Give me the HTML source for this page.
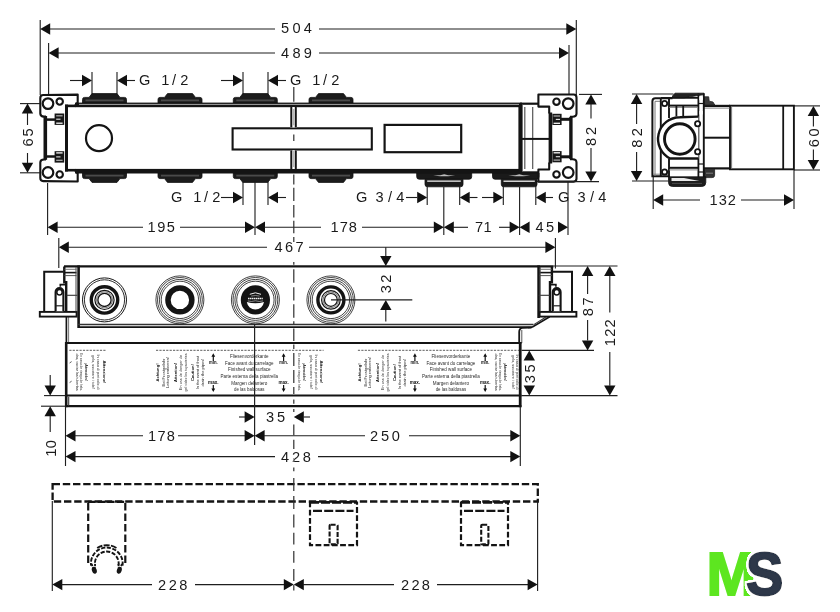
<!DOCTYPE html>
<html lang="en"><head><meta charset="utf-8"><title>Technical drawing</title>
<style>
html,body{margin:0;padding:0;background:#fff;}
body{width:840px;height:612px;overflow:hidden;}
svg{display:block;font-family:"Liberation Sans",sans-serif;}
</style></head><body>
<svg width="840" height="612" viewBox="0 0 840 612">
<rect width="840" height="612" fill="#fff"/>
<g opacity="0.999">
<line x1="40.20" y1="20.00" x2="40.20" y2="95.00" stroke="#1e1e1e" stroke-width="1.12" />
<line x1="48.60" y1="43.00" x2="48.60" y2="95.00" stroke="#1e1e1e" stroke-width="1.12" />
<line x1="576.30" y1="20.00" x2="576.30" y2="95.00" stroke="#1e1e1e" stroke-width="1.12" />
<line x1="569.00" y1="45.00" x2="569.00" y2="95.00" stroke="#1e1e1e" stroke-width="1.12" />
<line x1="49.00" y1="29.00" x2="275.00" y2="29.00" stroke="#1e1e1e" stroke-width="1.12" />
<line x1="319.00" y1="29.00" x2="567.00" y2="29.00" stroke="#1e1e1e" stroke-width="1.12" />
<polygon points="40.20,29.00 50.20,23.30 50.20,34.70" fill="#111"/>
<polygon points="576.30,29.00 566.30,23.30 566.30,34.70" fill="#111"/>
<text x="281.00" y="33.40" font-size="14.6" letter-spacing="3.321" fill="#1a1a1a">504</text>
<line x1="57.00" y1="53.00" x2="275.00" y2="53.00" stroke="#1e1e1e" stroke-width="1.12" />
<line x1="319.00" y1="53.00" x2="560.00" y2="53.00" stroke="#1e1e1e" stroke-width="1.12" />
<polygon points="48.60,53.00 58.60,47.30 58.60,58.70" fill="#111"/>
<polygon points="569.00,53.00 559.00,47.30 559.00,58.70" fill="#111"/>
<text x="281.00" y="58.00" font-size="14.6" letter-spacing="3.321" fill="#1a1a1a">489</text>
<line x1="70.00" y1="80.50" x2="82.00" y2="80.50" stroke="#1e1e1e" stroke-width="1.12" />
<polygon points="92.00,80.50 82.00,74.80 82.00,86.20" fill="#111"/>
<line x1="92.00" y1="72.00" x2="92.00" y2="95.00" stroke="#1e1e1e" stroke-width="1.12" />
<line x1="117.00" y1="72.00" x2="117.00" y2="95.00" stroke="#1e1e1e" stroke-width="1.12" />
<polygon points="117.00,80.50 127.00,74.80 127.00,86.20" fill="#111"/>
<line x1="127.00" y1="80.50" x2="135.00" y2="80.50" stroke="#1e1e1e" stroke-width="1.12" />
<text x="139.00 144.00 161.25 172.00 180.20" y="85.20" font-size="14.6" fill="#1a1a1a">G 1/2</text>
<line x1="221.00" y1="80.50" x2="233.00" y2="80.50" stroke="#1e1e1e" stroke-width="1.12" />
<polygon points="243.00,80.50 233.00,74.80 233.00,86.20" fill="#111"/>
<line x1="243.00" y1="72.00" x2="243.00" y2="95.00" stroke="#1e1e1e" stroke-width="1.12" />
<line x1="268.00" y1="72.00" x2="268.00" y2="95.00" stroke="#1e1e1e" stroke-width="1.12" />
<polygon points="268.00,80.50 278.00,74.80 278.00,86.20" fill="#111"/>
<line x1="278.00" y1="80.50" x2="286.00" y2="80.50" stroke="#1e1e1e" stroke-width="1.12" />
<text x="290.00 295.00 312.25 323.00 331.20" y="85.20" font-size="14.6" fill="#1a1a1a">G 1/2</text>
<path d="M82.50,103.00 L82.50,99.40 Q82.50,97.40 84.50,97.40 L89.00,97.40 L92.00,93.60 L117.00,93.60 L120.00,97.40 L124.50,97.40 Q126.50,97.40 126.50,99.40 L126.50,103.00 Z" fill="#1c1c1c" stroke="#111" stroke-width="0.8" />
<line x1="85.50" y1="100.40" x2="123.50" y2="100.40" stroke="#4a4a4a" stroke-width="1.6" />
<path d="M82.50,173.00 L82.50,176.60 Q82.50,178.60 84.50,178.60 L89.00,178.60 L92.00,182.40 L117.00,182.40 L120.00,178.60 L124.50,178.60 Q126.50,178.60 126.50,176.60 L126.50,173.00 Z" fill="#1c1c1c" stroke="#111" stroke-width="0.8" />
<line x1="85.50" y1="175.60" x2="123.50" y2="175.60" stroke="#4a4a4a" stroke-width="1.6" />
<path d="M158.00,103.00 L158.00,99.40 Q158.00,97.40 160.00,97.40 L164.50,97.40 L167.50,93.60 L192.50,93.60 L195.50,97.40 L200.00,97.40 Q202.00,97.40 202.00,99.40 L202.00,103.00 Z" fill="#1c1c1c" stroke="#111" stroke-width="0.8" />
<line x1="161.00" y1="100.40" x2="199.00" y2="100.40" stroke="#4a4a4a" stroke-width="1.6" />
<path d="M158.00,173.00 L158.00,176.60 Q158.00,178.60 160.00,178.60 L164.50,178.60 L167.50,182.40 L192.50,182.40 L195.50,178.60 L200.00,178.60 Q202.00,178.60 202.00,176.60 L202.00,173.00 Z" fill="#1c1c1c" stroke="#111" stroke-width="0.8" />
<line x1="161.00" y1="175.60" x2="199.00" y2="175.60" stroke="#4a4a4a" stroke-width="1.6" />
<path d="M233.30,103.00 L233.30,99.40 Q233.30,97.40 235.30,97.40 L239.80,97.40 L242.80,93.60 L267.80,93.60 L270.80,97.40 L275.30,97.40 Q277.30,97.40 277.30,99.40 L277.30,103.00 Z" fill="#1c1c1c" stroke="#111" stroke-width="0.8" />
<line x1="236.30" y1="100.40" x2="274.30" y2="100.40" stroke="#4a4a4a" stroke-width="1.6" />
<path d="M233.30,173.00 L233.30,176.60 Q233.30,178.60 235.30,178.60 L239.80,178.60 L242.80,182.40 L267.80,182.40 L270.80,178.60 L275.30,178.60 Q277.30,178.60 277.30,176.60 L277.30,173.00 Z" fill="#1c1c1c" stroke="#111" stroke-width="0.8" />
<line x1="236.30" y1="175.60" x2="274.30" y2="175.60" stroke="#4a4a4a" stroke-width="1.6" />
<path d="M309.00,103.00 L309.00,99.40 Q309.00,97.40 311.00,97.40 L315.50,97.40 L318.50,93.60 L343.50,93.60 L346.50,97.40 L351.00,97.40 Q353.00,97.40 353.00,99.40 L353.00,103.00 Z" fill="#1c1c1c" stroke="#111" stroke-width="0.8" />
<line x1="312.00" y1="100.40" x2="350.00" y2="100.40" stroke="#4a4a4a" stroke-width="1.6" />
<path d="M309.00,173.00 L309.00,176.60 Q309.00,178.60 311.00,178.60 L315.50,178.60 L318.50,182.40 L343.50,182.40 L346.50,178.60 L351.00,178.60 Q353.00,178.60 353.00,176.60 L353.00,173.00 Z" fill="#1c1c1c" stroke="#111" stroke-width="0.8" />
<line x1="312.00" y1="175.60" x2="350.00" y2="175.60" stroke="#4a4a4a" stroke-width="1.6" />
<path d="M416.70,173 L416.70,176.70 Q416.70,179.2 419.20,179.2 L469.20,179.2 Q471.70,179.2 471.70,176.70 L471.70,173 Z" fill="#1a1a1a" stroke="#111" stroke-width="0.8" />
<path d="M425.00,179.39999999999998 L425.00,184.30 Q425.00,186.8 427.50,186.8 L460.50,186.8 Q463.00,186.8 463.00,184.30 L463.00,179.39999999999998 Z" fill="#1a1a1a" stroke="#111" stroke-width="0.8" />
<line x1="427.20" y1="181.20" x2="460.80" y2="181.20" stroke="#f4f4f4" stroke-width="1.3" />
<path d="M433.20,175.6 L440.20,175.2 L444.20,174.2 L448.20,175.2 L455.20,175.6 L448.20,176.2 L440.20,176.2 Z" fill="#bdbdbd" stroke="none" stroke-width="0" />
<path d="M492.50,173 L492.50,176.70 Q492.50,179.2 495.00,179.2 L536.50,179.2 Q539.00,179.2 539.00,176.70 L539.00,173 Z" fill="#1a1a1a" stroke="#111" stroke-width="0.8" />
<path d="M501.30,179.39999999999998 L501.30,184.30 Q501.30,186.8 503.80,186.8 L534.50,186.8 Q537.00,186.8 537.00,184.30 L537.00,179.39999999999998 Z" fill="#1a1a1a" stroke="#111" stroke-width="0.8" />
<line x1="503.50" y1="181.20" x2="534.80" y2="181.20" stroke="#f4f4f4" stroke-width="1.3" />
<path d="M508.30,175.6 L515.30,175.2 L519.30,174.2 L523.30,175.2 L530.30,175.6 L523.30,176.2 L515.30,176.2 Z" fill="#bdbdbd" stroke="none" stroke-width="0" />
<rect x="65.00" y="104.60" width="10.40" height="2.60" fill="#141414" rx="0"/>
<rect x="75.00" y="102.60" width="447.00" height="4.60" fill="#141414" rx="0"/>
<rect x="520.00" y="102.60" width="18.60" height="2.20" fill="#141414" rx="0"/>
<line x1="79.00" y1="104.40" x2="519.00" y2="104.40" stroke="#b4b4b4" stroke-width="0.9" />
<rect x="65.00" y="168.90" width="10.40" height="2.60" fill="#141414" rx="0"/>
<rect x="75.00" y="168.90" width="447.00" height="4.60" fill="#141414" rx="0"/>
<rect x="520.00" y="171.30" width="18.60" height="2.20" fill="#141414" rx="0"/>
<rect x="65.00" y="104.60" width="3.00" height="66.90" fill="#141414" rx="0"/>
<rect x="518.40" y="105.00" width="4.20" height="66.00" fill="#141414" rx="0"/>
<line x1="524.80" y1="107.00" x2="524.80" y2="169.00" stroke="#555" stroke-width="1.2" />
<line x1="532.70" y1="107.00" x2="532.70" y2="169.00" stroke="#555" stroke-width="1.2" />
<line x1="522.00" y1="138.90" x2="549.00" y2="138.90" stroke="#141414" stroke-width="2" />
<circle cx="99.00" cy="138.20" r="13.00" fill="none" stroke="#141414" stroke-width="2.2"/>
<rect x="232.60" y="128.30" width="139.20" height="21.20" fill="none" stroke="#141414" stroke-width="2.1" rx="0" />
<rect x="384.60" y="124.90" width="76.60" height="27.30" fill="none" stroke="#141414" stroke-width="2.2" rx="0" />
<rect x="290.30" y="107.00" width="6.50" height="20.50" fill="#fff" rx="0"/>
<line x1="291.30" y1="107.00" x2="291.30" y2="127.50" stroke="#141414" stroke-width="2.0" />
<line x1="295.80" y1="107.00" x2="295.80" y2="127.50" stroke="#141414" stroke-width="2.0" />
<rect x="290.30" y="150.30" width="6.50" height="18.70" fill="#fff" rx="0"/>
<line x1="291.30" y1="150.30" x2="291.30" y2="169.00" stroke="#141414" stroke-width="2.0" />
<line x1="295.80" y1="150.30" x2="295.80" y2="169.00" stroke="#141414" stroke-width="2.0" />
<path d="M77.7,103.00 L77.7,94.60 L43.2,95.00 Q40.3,95.00 40.3,98.00 L40.3,113.50 Q40.3,116.60 44,116.60 L46,116.60" fill="none" stroke="#141414" stroke-width="2.1" stroke-linejoin="round"/>
<path d="M74.2,104.90 L77.7,101.00 L77.7,104.90 Z" fill="#141414" stroke="none" stroke-width="0" />
<circle cx="48.00" cy="103.60" r="5.30" fill="none" stroke="#141414" stroke-width="2.2"/>
<circle cx="59.70" cy="101.60" r="3.20" fill="none" stroke="#141414" stroke-width="2.1"/>
<line x1="46.00" y1="119.60" x2="55.50" y2="119.60" stroke="#141414" stroke-width="2.5" />
<rect x="54.60" y="113.50" width="9.60" height="11.40" fill="#171717" rx="0"/>
<line x1="56.20" y1="115.80" x2="62.60" y2="115.80" stroke="#b4b4b4" stroke-width="1.2" />
<line x1="56.20" y1="119.20" x2="60.50" y2="119.20" stroke="#e6e6e6" stroke-width="1.1" />
<line x1="56.20" y1="123.20" x2="62.60" y2="123.20" stroke="#fafafa" stroke-width="1.3" />
<path d="M77.7,173.10 L77.7,181.50 L43.2,181.10 Q40.3,181.10 40.3,178.10 L40.3,162.60 Q40.3,159.50 44,159.50 L46,159.50" fill="none" stroke="#141414" stroke-width="2.1" stroke-linejoin="round"/>
<path d="M74.2,171.20 L77.7,175.10 L77.7,171.20 Z" fill="#141414" stroke="none" stroke-width="0" />
<circle cx="48.00" cy="172.50" r="5.30" fill="none" stroke="#141414" stroke-width="2.2"/>
<circle cx="59.70" cy="174.50" r="3.20" fill="none" stroke="#141414" stroke-width="2.1"/>
<line x1="46.00" y1="156.50" x2="55.50" y2="156.50" stroke="#141414" stroke-width="2.5" />
<rect x="54.60" y="151.20" width="9.60" height="11.40" fill="#171717" rx="0"/>
<line x1="56.20" y1="160.30" x2="62.60" y2="160.30" stroke="#b4b4b4" stroke-width="1.2" />
<line x1="56.20" y1="156.90" x2="60.50" y2="156.90" stroke="#e6e6e6" stroke-width="1.1" />
<line x1="56.20" y1="152.90" x2="62.60" y2="152.90" stroke="#fafafa" stroke-width="1.3" />
<rect x="43.50" y="116.00" width="3.60" height="43.80" fill="#141414" rx="0"/>
<path d="M549.2,113.50 L549.2,106.60 L538.4,106.60 L538.4,94.50 L573.6,94.50 Q576.5,94.50 576.5,97.50 L576.5,113.60 Q576.5,116.80 572.6,116.80 L570,116.80" fill="none" stroke="#141414" stroke-width="2.1" stroke-linejoin="round"/>
<circle cx="568.20" cy="103.60" r="5.30" fill="none" stroke="#141414" stroke-width="2.2"/>
<circle cx="556.50" cy="101.70" r="3.20" fill="none" stroke="#141414" stroke-width="2.1"/>
<line x1="561.00" y1="119.30" x2="571.00" y2="119.30" stroke="#141414" stroke-width="3.0" />
<rect x="552.40" y="113.80" width="9.20" height="11.20" fill="#171717" rx="0"/>
<line x1="553.60" y1="116.00" x2="560.00" y2="116.00" stroke="#b4b4b4" stroke-width="1.2" />
<line x1="555.80" y1="119.40" x2="560.00" y2="119.40" stroke="#e6e6e6" stroke-width="1.1" />
<line x1="553.60" y1="123.30" x2="560.00" y2="123.30" stroke="#fafafa" stroke-width="1.3" />
<path d="M549.2,162.60 L549.2,169.50 L538.4,169.50 L538.4,181.60 L573.6,181.60 Q576.5,181.60 576.5,178.60 L576.5,162.50 Q576.5,159.30 572.6,159.30 L570,159.30" fill="none" stroke="#141414" stroke-width="2.1" stroke-linejoin="round"/>
<circle cx="568.20" cy="172.50" r="5.30" fill="none" stroke="#141414" stroke-width="2.2"/>
<circle cx="556.50" cy="174.40" r="3.20" fill="none" stroke="#141414" stroke-width="2.1"/>
<line x1="561.00" y1="156.80" x2="571.00" y2="156.80" stroke="#141414" stroke-width="3.0" />
<rect x="552.40" y="151.10" width="9.20" height="11.20" fill="#171717" rx="0"/>
<line x1="553.60" y1="160.10" x2="560.00" y2="160.10" stroke="#b4b4b4" stroke-width="1.2" />
<line x1="555.80" y1="156.70" x2="560.00" y2="156.70" stroke="#e6e6e6" stroke-width="1.1" />
<line x1="553.60" y1="152.80" x2="560.00" y2="152.80" stroke="#fafafa" stroke-width="1.3" />
<rect x="548.60" y="112.50" width="3.60" height="51.00" fill="#141414" rx="0"/>
<rect x="569.20" y="116.80" width="3.40" height="42.30" fill="#141414" rx="0"/>
<line x1="20.00" y1="103.60" x2="40.00" y2="103.60" stroke="#1e1e1e" stroke-width="1.12" />
<line x1="20.00" y1="172.80" x2="40.00" y2="172.80" stroke="#1e1e1e" stroke-width="1.12" />
<polygon points="27.50,103.60 21.80,113.60 33.20,113.60" fill="#111"/>
<polygon points="27.50,172.80 21.80,162.80 33.20,162.80" fill="#111"/>
<line x1="27.50" y1="113.00" x2="27.50" y2="125.00" stroke="#1e1e1e" stroke-width="1.12" />
<line x1="27.50" y1="153.00" x2="27.50" y2="163.30" stroke="#1e1e1e" stroke-width="1.12" />
<text transform="translate(27.50 137.40) rotate(-90)" x="-9.00" y="5.23" font-size="14.6" letter-spacing="1.763" fill="#1a1a1a">65</text>
<line x1="579.00" y1="94.40" x2="602.00" y2="94.40" stroke="#1e1e1e" stroke-width="1.12" />
<line x1="537.00" y1="181.60" x2="599.00" y2="181.60" stroke="#1e1e1e" stroke-width="1.12" />
<polygon points="591.00,94.40 585.30,104.40 596.70,104.40" fill="#111"/>
<polygon points="591.00,181.60 585.30,171.60 596.70,171.60" fill="#111"/>
<line x1="591.00" y1="104.00" x2="591.00" y2="118.50" stroke="#1e1e1e" stroke-width="1.12" />
<line x1="591.00" y1="148.00" x2="591.00" y2="172.00" stroke="#1e1e1e" stroke-width="1.12" />
<text transform="translate(591.00 136.50) rotate(-90)" x="-9.50" y="5.23" font-size="14.6" letter-spacing="2.763" fill="#1a1a1a">82</text>
<text x="171.00 176.00 193.25 204.00 212.20" y="201.60" font-size="14.6" fill="#1a1a1a">G 1/2</text>
<line x1="221.00" y1="197.50" x2="233.00" y2="197.50" stroke="#1e1e1e" stroke-width="1.12" />
<polygon points="243.00,197.50 233.00,191.80 233.00,203.20" fill="#111"/>
<line x1="243.00" y1="182.00" x2="243.00" y2="205.00" stroke="#1e1e1e" stroke-width="1.12" />
<line x1="268.00" y1="182.00" x2="268.00" y2="205.00" stroke="#1e1e1e" stroke-width="1.12" />
<polygon points="268.00,197.50 278.00,191.80 278.00,203.20" fill="#111"/>
<line x1="278.00" y1="197.50" x2="286.00" y2="197.50" stroke="#1e1e1e" stroke-width="1.12" />
<text x="356.00 361.00 375.60 388.00 396.30" y="201.60" font-size="14.6" fill="#1a1a1a">G 3/4</text>
<line x1="406.00" y1="197.50" x2="417.20" y2="197.50" stroke="#1e1e1e" stroke-width="1.12" />
<polygon points="427.20,197.50 417.20,191.80 417.20,203.20" fill="#111"/>
<line x1="427.20" y1="186.00" x2="427.20" y2="205.00" stroke="#1e1e1e" stroke-width="1.12" />
<line x1="459.70" y1="186.00" x2="459.70" y2="205.00" stroke="#1e1e1e" stroke-width="1.12" />
<polygon points="459.70,197.50 469.70,191.80 469.70,203.20" fill="#111"/>
<line x1="469.30" y1="197.50" x2="477.50" y2="197.50" stroke="#1e1e1e" stroke-width="1.12" />
<line x1="482.00" y1="197.50" x2="494.00" y2="197.50" stroke="#1e1e1e" stroke-width="1.12" />
<polygon points="503.30,197.50 493.30,191.80 493.30,203.20" fill="#111"/>
<line x1="503.30" y1="186.00" x2="503.30" y2="205.00" stroke="#1e1e1e" stroke-width="1.12" />
<line x1="535.80" y1="186.00" x2="535.80" y2="205.00" stroke="#1e1e1e" stroke-width="1.12" />
<polygon points="535.80,197.50 545.80,191.80 545.80,203.20" fill="#111"/>
<line x1="545.40" y1="197.50" x2="553.00" y2="197.50" stroke="#1e1e1e" stroke-width="1.12" />
<text x="558.00 563.00 577.60 590.00 598.30" y="201.60" font-size="14.6" fill="#1a1a1a">G 3/4</text>
<line x1="47.60" y1="183.00" x2="47.60" y2="235.00" stroke="#1e1e1e" stroke-width="1.12" />
<line x1="255.00" y1="182.00" x2="255.00" y2="235.00" stroke="#1e1e1e" stroke-width="1.12" />
<line x1="443.80" y1="187.00" x2="443.80" y2="235.00" stroke="#1e1e1e" stroke-width="1.12" />
<line x1="519.60" y1="187.00" x2="519.60" y2="235.00" stroke="#1e1e1e" stroke-width="1.12" />
<line x1="568.00" y1="182.00" x2="568.00" y2="235.00" stroke="#1e1e1e" stroke-width="1.12" />
<polygon points="47.60,227.30 57.60,221.60 57.60,233.00" fill="#111"/>
<line x1="57.00" y1="227.30" x2="143.00" y2="227.30" stroke="#1e1e1e" stroke-width="1.12" />
<text x="147.50" y="232.40" font-size="14.6" letter-spacing="1.571" fill="#1a1a1a">195</text>
<line x1="180.00" y1="227.30" x2="246.00" y2="227.30" stroke="#1e1e1e" stroke-width="1.12" />
<polygon points="255.00,227.30 245.00,221.60 245.00,233.00" fill="#111"/>
<polygon points="255.00,227.30 265.00,221.60 265.00,233.00" fill="#111"/>
<line x1="264.00" y1="227.30" x2="321.00" y2="227.30" stroke="#1e1e1e" stroke-width="1.12" />
<text x="330.40" y="232.40" font-size="14.6" letter-spacing="1.121" fill="#1a1a1a">178</text>
<line x1="362.00" y1="227.30" x2="435.00" y2="227.30" stroke="#1e1e1e" stroke-width="1.12" />
<polygon points="443.80,227.30 433.80,221.60 433.80,233.00" fill="#111"/>
<polygon points="443.80,227.30 453.80,221.60 453.80,233.00" fill="#111"/>
<line x1="453.00" y1="227.30" x2="468.00" y2="227.30" stroke="#1e1e1e" stroke-width="1.12" />
<text x="475.00" y="232.40" font-size="14.6" letter-spacing="0.463" fill="#1a1a1a">71</text>
<line x1="499.00" y1="227.30" x2="511.00" y2="227.30" stroke="#1e1e1e" stroke-width="1.12" />
<polygon points="519.60,227.30 509.60,221.60 509.60,233.00" fill="#111"/>
<polygon points="519.60,227.30 529.60,221.60 529.60,233.00" fill="#111"/>
<text x="535.50" y="232.40" font-size="14.6" letter-spacing="2.263" fill="#1a1a1a">45</text>
<polygon points="568.00,227.30 558.00,221.60 558.00,233.00" fill="#111"/>
<line x1="58.80" y1="238.00" x2="58.80" y2="268.00" stroke="#1e1e1e" stroke-width="1.12" />
<line x1="555.40" y1="238.00" x2="555.40" y2="268.50" stroke="#1e1e1e" stroke-width="1.12" />
<polygon points="58.80,247.20 68.80,241.50 68.80,252.90" fill="#111"/>
<polygon points="555.40,247.20 545.40,241.50 545.40,252.90" fill="#111"/>
<line x1="68.00" y1="247.20" x2="267.00" y2="247.20" stroke="#1e1e1e" stroke-width="1.12" />
<line x1="309.00" y1="247.20" x2="546.00" y2="247.20" stroke="#1e1e1e" stroke-width="1.12" />
<text x="274.50" y="252.40" font-size="14.6" letter-spacing="2.371" fill="#1a1a1a">467</text>
<line x1="64.00" y1="266.30" x2="553.50" y2="266.30" stroke="#141414" stroke-width="2.2" />
<line x1="78.60" y1="265.40" x2="78.60" y2="328.00" stroke="#141414" stroke-width="2.6" />
<line x1="538.60" y1="265.40" x2="538.60" y2="318.00" stroke="#141414" stroke-width="2.6" />
<line x1="78.00" y1="324.50" x2="533.50" y2="324.50" stroke="#333" stroke-width="1.3" />
<line x1="78.00" y1="327.10" x2="532.00" y2="327.10" stroke="#141414" stroke-width="1.6" />
<path d="M532,327.3 L549.7,316.8" fill="none" stroke="#141414" stroke-width="1.6" />
<path d="M533.8,324.6 L545.6,317.2" fill="none" stroke="#333" stroke-width="1.1" />
<path d="M531.5,327.6 L522.5,327.9 Q519.2,328.2 519.2,332 L519.2,343" fill="none" stroke="#141414" stroke-width="1.8" />
<line x1="521.80" y1="330.00" x2="521.80" y2="343.00" stroke="#555" stroke-width="1.0" />
<line x1="66.40" y1="316.60" x2="66.40" y2="343.00" stroke="#141414" stroke-width="1.7" />
<line x1="68.60" y1="316.60" x2="68.60" y2="343.00" stroke="#666" stroke-width="0.9" />
<rect x="39.80" y="311.90" width="36.80" height="4.70" fill="#fff" stroke="#141414" stroke-width="1.9" rx="0" />
<path d="M63.4,271.8 L44.2,271.8 L44.2,311.7" fill="none" stroke="#141414" stroke-width="2.0" />
<path d="M64.3,266.6 L64.3,282.2 L66.2,282.2 L66.2,311.5" fill="none" stroke="#141414" stroke-width="2.4" />
<line x1="64.50" y1="272.60" x2="76.50" y2="272.60" stroke="#141414" stroke-width="1.6" />
<line x1="64.50" y1="275.60" x2="76.50" y2="275.60" stroke="#555" stroke-width="1.0" />
<line x1="66.50" y1="295.30" x2="77.50" y2="295.30" stroke="#333" stroke-width="1.1" />
<line x1="76.00" y1="267.00" x2="76.00" y2="311.50" stroke="#444" stroke-width="1.0" />
<line x1="64.50" y1="269.30" x2="76.50" y2="269.30" stroke="#666" stroke-width="0.9" />
<path d="M55.6,311.2 L55.6,292 A3.9,3.9 0 0 1 63.4,292 L63.4,311.2" fill="#fff" stroke="#141414" stroke-width="2.1" />
<circle cx="59.50" cy="292.20" r="2.70" fill="none" stroke="#141414" stroke-width="1.5"/>
<path d="M60.3,286.8 L60.3,284.6 L65.8,284.6" fill="none" stroke="#141414" stroke-width="1.6" />
<line x1="56.00" y1="305.80" x2="63.00" y2="305.80" stroke="#222" stroke-width="1.2" />
<g transform="translate(616.2 0) scale(-1 1)">
<rect x="39.80" y="311.90" width="36.80" height="4.70" fill="#fff" stroke="#141414" stroke-width="1.9" rx="0" />
<path d="M63.4,271.8 L44.2,271.8 L44.2,311.7" fill="none" stroke="#141414" stroke-width="2.0" />
<path d="M64.3,266.6 L64.3,282.2 L66.2,282.2 L66.2,311.5" fill="none" stroke="#141414" stroke-width="2.4" />
<line x1="64.50" y1="272.60" x2="76.50" y2="272.60" stroke="#141414" stroke-width="1.6" />
<line x1="64.50" y1="275.60" x2="76.50" y2="275.60" stroke="#555" stroke-width="1.0" />
<line x1="66.50" y1="295.30" x2="77.50" y2="295.30" stroke="#333" stroke-width="1.1" />
<line x1="76.00" y1="267.00" x2="76.00" y2="311.50" stroke="#444" stroke-width="1.0" />
<line x1="64.50" y1="269.30" x2="76.50" y2="269.30" stroke="#666" stroke-width="0.9" />
<path d="M55.6,311.2 L55.6,292 A3.9,3.9 0 0 1 63.4,292 L63.4,311.2" fill="#fff" stroke="#141414" stroke-width="2.1" />
<circle cx="59.50" cy="292.20" r="2.70" fill="none" stroke="#141414" stroke-width="1.5"/>
<path d="M60.3,286.8 L60.3,284.6 L65.8,284.6" fill="none" stroke="#141414" stroke-width="1.6" />
<line x1="56.00" y1="305.80" x2="63.00" y2="305.80" stroke="#222" stroke-width="1.2" />
</g>
<circle cx="104.50" cy="299.90" r="22.00" fill="none" stroke="#141414" stroke-width="1.0"/>
<circle cx="104.50" cy="299.90" r="20.10" fill="none" stroke="#141414" stroke-width="0.9"/>
<circle cx="104.50" cy="299.90" r="13.20" fill="none" stroke="#141414" stroke-width="3.4"/>
<circle cx="104.50" cy="299.90" r="9.60" fill="none" stroke="#141414" stroke-width="1.2"/>
<circle cx="104.50" cy="299.90" r="8.00" fill="none" stroke="#444" stroke-width="0.7"/>
<circle cx="104.50" cy="299.90" r="6.60" fill="none" stroke="#141414" stroke-width="1.3"/>
<circle cx="179.90" cy="299.90" r="24.00" fill="none" stroke="#141414" stroke-width="0.8"/>
<circle cx="179.90" cy="299.90" r="22.40" fill="none" stroke="#141414" stroke-width="0.8"/>
<circle cx="179.90" cy="299.90" r="20.50" fill="none" stroke="#141414" stroke-width="0.8"/>
<circle cx="179.90" cy="299.90" r="18.70" fill="none" stroke="#141414" stroke-width="0.8"/>
<circle cx="179.90" cy="299.90" r="11.95" fill="none" stroke="#141414" stroke-width="5.5"/>
<circle cx="255.40" cy="299.90" r="24.00" fill="none" stroke="#141414" stroke-width="0.8"/>
<circle cx="255.40" cy="299.90" r="22.40" fill="none" stroke="#141414" stroke-width="0.8"/>
<circle cx="255.40" cy="299.90" r="20.50" fill="none" stroke="#141414" stroke-width="0.8"/>
<circle cx="255.40" cy="299.90" r="18.70" fill="none" stroke="#141414" stroke-width="0.8"/>
<circle cx="255.40" cy="299.90" r="14.60" fill="#141414" stroke="none" stroke-width="0"/>
<path d="M246.80,302.10 A8.7,8.7 0 0 0 264.00,302.10 Q255.40,304.50 246.80,302.10 Z" fill="#fff" stroke="none" stroke-width="0" />
<path d="M249.80,294.30 Q255.40,291.30 261.00,294.30" fill="none" stroke="#f2f2f2" stroke-width="1.0" />
<path d="M251.20,296.10 Q255.40,294.90 259.60,296.10" fill="none" stroke="#cfcfcf" stroke-width="0.6" />
<line x1="248.00" y1="298.50" x2="262.80" y2="298.50" stroke="#efefef" stroke-width="1.7" stroke-dasharray="1.5 0.45"/>
<path d="M247.80,300.90 Q251.40,302.10 255.40,300.80 Q259.40,302.10 263.00,300.90" fill="none" stroke="#dcdcdc" stroke-width="0.6" />
<circle cx="330.90" cy="299.90" r="24.00" fill="none" stroke="#141414" stroke-width="0.8"/>
<circle cx="330.90" cy="299.90" r="22.40" fill="none" stroke="#141414" stroke-width="0.8"/>
<circle cx="330.90" cy="299.90" r="20.50" fill="none" stroke="#141414" stroke-width="0.8"/>
<circle cx="330.90" cy="299.90" r="18.70" fill="none" stroke="#141414" stroke-width="0.8"/>
<circle cx="330.90" cy="299.90" r="13.00" fill="none" stroke="#141414" stroke-width="3.4"/>
<circle cx="330.90" cy="299.90" r="9.30" fill="none" stroke="#141414" stroke-width="1.2"/>
<circle cx="330.90" cy="299.90" r="7.80" fill="none" stroke="#444" stroke-width="0.7"/>
<circle cx="330.90" cy="299.90" r="6.40" fill="none" stroke="#141414" stroke-width="1.2"/>
<line x1="331.00" y1="299.90" x2="412.30" y2="299.90" stroke="#1e1e1e" stroke-width="1.1" />
<line x1="385.80" y1="247.20" x2="385.80" y2="256.50" stroke="#1e1e1e" stroke-width="1.12" />
<polygon points="385.80,266.00 380.10,256.00 391.50,256.00" fill="#111"/>
<polygon points="385.80,300.00 380.10,310.00 391.50,310.00" fill="#111"/>
<line x1="385.80" y1="310.00" x2="385.80" y2="321.40" stroke="#1e1e1e" stroke-width="1.12" />
<text transform="translate(385.80 284.00) rotate(-90)" x="-9.25" y="5.23" font-size="14.6" letter-spacing="2.263" fill="#1a1a1a">32</text>
<line x1="65.00" y1="343.00" x2="521.40" y2="343.00" stroke="#141414" stroke-width="2.2" />
<line x1="65.00" y1="395.50" x2="521.40" y2="395.50" stroke="#141414" stroke-width="2.2" />
<line x1="65.00" y1="406.20" x2="521.40" y2="406.20" stroke="#141414" stroke-width="2.2" />
<line x1="66.20" y1="342.00" x2="66.20" y2="407.20" stroke="#141414" stroke-width="2.6" />
<line x1="520.20" y1="342.00" x2="520.20" y2="407.20" stroke="#141414" stroke-width="2.8" />
<line x1="68.60" y1="396.50" x2="68.60" y2="405.40" stroke="#555" stroke-width="1.4" />
<line x1="254.60" y1="324.00" x2="254.60" y2="445.00" stroke="#222" stroke-width="1.2" />
<line x1="69.30" y1="350.30" x2="106.00" y2="350.30" stroke="#333" stroke-width="0.8" stroke-dasharray="2.2 1.2"/>
<line x1="156.00" y1="350.30" x2="323.60" y2="350.30" stroke="#333" stroke-width="0.8" stroke-dasharray="2.2 1.2"/>
<line x1="357.90" y1="350.30" x2="519.00" y2="350.30" stroke="#333" stroke-width="0.8" stroke-dasharray="2.2 1.2"/>
<text transform="translate(75.50 372.00) rotate(90)" font-size="4.3" text-anchor="middle" textLength="37.0" lengthAdjust="spacingAndGlyphs" fill="#2a2a2a">das, vaciar las tuberías</text>
<text transform="translate(80.00 372.00) rotate(90)" font-size="4.3" text-anchor="middle" textLength="38.0" lengthAdjust="spacingAndGlyphs" fill="#2a2a2a">En caso de riesgo de hela-</text>
<text transform="translate(85.00 372.00) rotate(90)" font-size="4.4" text-anchor="middle" font-weight="bold" textLength="18.0" lengthAdjust="spacingAndGlyphs" fill="#111">¡Atención!</text>
<text transform="translate(92.20 372.00) rotate(90)" font-size="4.3" text-anchor="middle" textLength="34.0" lengthAdjust="spacingAndGlyphs" fill="#2a2a2a">gelo, svuotare i tubi!</text>
<text transform="translate(96.90 372.00) rotate(90)" font-size="4.3" text-anchor="middle" textLength="35.0" lengthAdjust="spacingAndGlyphs" fill="#2a2a2a">In caso di pericolo di</text>
<text transform="translate(102.50 372.00) rotate(90)" font-size="4.4" text-anchor="middle" font-weight="bold" textLength="23.0" lengthAdjust="spacingAndGlyphs" fill="#111">Attenzione!</text>
<line x1="69.60" y1="363.00" x2="71.60" y2="361.60" stroke="#333" stroke-width="0.8" />
<line x1="69.60" y1="382.60" x2="71.60" y2="381.20" stroke="#333" stroke-width="0.8" />
<text transform="translate(159.30 372.50) rotate(-90)" font-size="4.4" text-anchor="middle" font-weight="bold" textLength="18.0" lengthAdjust="spacingAndGlyphs" fill="#111">Achtung!</text>
<text transform="translate(164.90 372.50) rotate(-90)" font-size="4.3" text-anchor="middle" textLength="28.0" lengthAdjust="spacingAndGlyphs" fill="#2a2a2a">Bei Frostgefahr</text>
<text transform="translate(169.30 372.50) rotate(-90)" font-size="4.3" text-anchor="middle" textLength="31.0" lengthAdjust="spacingAndGlyphs" fill="#2a2a2a">Leitung entleeren!</text>
<text transform="translate(177.10 372.50) rotate(-90)" font-size="4.4" text-anchor="middle" font-weight="bold" textLength="19.0" lengthAdjust="spacingAndGlyphs" fill="#111">Attention!</text>
<text transform="translate(182.10 372.50) rotate(-90)" font-size="4.3" text-anchor="middle" textLength="35.0" lengthAdjust="spacingAndGlyphs" fill="#2a2a2a">En cas de danger de</text>
<text transform="translate(187.10 372.50) rotate(-90)" font-size="4.3" text-anchor="middle" textLength="38.0" lengthAdjust="spacingAndGlyphs" fill="#2a2a2a">gel videz les tuyauteries</text>
<text transform="translate(194.30 372.50) rotate(-90)" font-size="4.4" text-anchor="middle" font-weight="bold" textLength="17.0" lengthAdjust="spacingAndGlyphs" fill="#111">Caution!</text>
<text transform="translate(199.30 372.50) rotate(-90)" font-size="4.3" text-anchor="middle" textLength="33.0" lengthAdjust="spacingAndGlyphs" fill="#2a2a2a">In the event of frost</text>
<text transform="translate(204.30 372.50) rotate(-90)" font-size="4.3" text-anchor="middle" textLength="28.0" lengthAdjust="spacingAndGlyphs" fill="#2a2a2a">drain the pipes!</text>
<line x1="213.30" y1="355.00" x2="213.30" y2="361.00" stroke="#111" stroke-width="1.2" />
<polygon points="213.30,353.2 211.40,356.8 215.20,356.8" fill="#111"/>
<text x="213.30" y="364.30" font-size="4.7" text-anchor="middle" font-weight="bold" textLength="8.6" lengthAdjust="spacingAndGlyphs" fill="#111">min.</text>
<text x="213.30" y="383.60" font-size="4.7" text-anchor="middle" font-weight="bold" textLength="10.4" lengthAdjust="spacingAndGlyphs" fill="#111">max.</text>
<line x1="213.30" y1="385.00" x2="213.30" y2="390.20" stroke="#111" stroke-width="1.2" />
<polygon points="213.30,392 211.40,388.4 215.20,388.4" fill="#111"/>
<text x="249.30" y="357.60" font-size="5.0" text-anchor="middle" textLength="38.6" lengthAdjust="spacingAndGlyphs" fill="#2a2a2a">Fliesenvorderkante</text>
<text x="249.30" y="364.50" font-size="5.0" text-anchor="middle" textLength="48.6" lengthAdjust="spacingAndGlyphs" fill="#2a2a2a">Face avant du carrelage</text>
<text x="249.30" y="371.30" font-size="5.0" text-anchor="middle" textLength="42.5" lengthAdjust="spacingAndGlyphs" fill="#2a2a2a">Finished wall surface</text>
<text x="249.30" y="378.30" font-size="5.0" text-anchor="middle" textLength="57.7" lengthAdjust="spacingAndGlyphs" fill="#2a2a2a">Parte esterna della piastrella</text>
<text x="249.30" y="385.00" font-size="5.0" text-anchor="middle" textLength="36.2" lengthAdjust="spacingAndGlyphs" fill="#2a2a2a">Margen delantero</text>
<text x="249.30" y="390.90" font-size="5.0" text-anchor="middle" textLength="30.5" lengthAdjust="spacingAndGlyphs" fill="#2a2a2a">de las baldosas</text>
<line x1="283.60" y1="355.00" x2="283.60" y2="361.00" stroke="#111" stroke-width="1.2" />
<polygon points="283.60,353.2 281.70,356.8 285.50,356.8" fill="#111"/>
<text x="283.60" y="364.30" font-size="4.7" text-anchor="middle" font-weight="bold" textLength="8.6" lengthAdjust="spacingAndGlyphs" fill="#111">min.</text>
<text x="283.60" y="383.60" font-size="4.7" text-anchor="middle" font-weight="bold" textLength="10.4" lengthAdjust="spacingAndGlyphs" fill="#111">max.</text>
<line x1="283.60" y1="385.00" x2="283.60" y2="390.20" stroke="#111" stroke-width="1.2" />
<polygon points="283.60,392 281.70,388.4 285.50,388.4" fill="#111"/>
<text transform="translate(297.80 372.00) rotate(90)" font-size="4.3" text-anchor="middle" textLength="38.0" lengthAdjust="spacingAndGlyphs" fill="#2a2a2a">En caso de riesgo de hela-</text>
<text transform="translate(302.80 372.00) rotate(90)" font-size="4.4" text-anchor="middle" font-weight="bold" textLength="18.0" lengthAdjust="spacingAndGlyphs" fill="#111">¡Atención!</text>
<text transform="translate(310.00 372.00) rotate(90)" font-size="4.3" text-anchor="middle" textLength="34.0" lengthAdjust="spacingAndGlyphs" fill="#2a2a2a">gelo, svuotare i tubi!</text>
<text transform="translate(314.70 372.00) rotate(90)" font-size="4.3" text-anchor="middle" textLength="35.0" lengthAdjust="spacingAndGlyphs" fill="#2a2a2a">In caso di pericolo di</text>
<text transform="translate(320.30 372.00) rotate(90)" font-size="4.4" text-anchor="middle" font-weight="bold" textLength="23.0" lengthAdjust="spacingAndGlyphs" fill="#111">Attenzione!</text>
<text transform="translate(360.90 372.50) rotate(-90)" font-size="4.4" text-anchor="middle" font-weight="bold" textLength="18.0" lengthAdjust="spacingAndGlyphs" fill="#111">Achtung!</text>
<text transform="translate(366.50 372.50) rotate(-90)" font-size="4.3" text-anchor="middle" textLength="28.0" lengthAdjust="spacingAndGlyphs" fill="#2a2a2a">Bei Frostgefahr</text>
<text transform="translate(370.90 372.50) rotate(-90)" font-size="4.3" text-anchor="middle" textLength="31.0" lengthAdjust="spacingAndGlyphs" fill="#2a2a2a">Leitung entleeren!</text>
<text transform="translate(378.70 372.50) rotate(-90)" font-size="4.4" text-anchor="middle" font-weight="bold" textLength="19.0" lengthAdjust="spacingAndGlyphs" fill="#111">Attention!</text>
<text transform="translate(383.70 372.50) rotate(-90)" font-size="4.3" text-anchor="middle" textLength="35.0" lengthAdjust="spacingAndGlyphs" fill="#2a2a2a">En cas de danger de</text>
<text transform="translate(388.70 372.50) rotate(-90)" font-size="4.3" text-anchor="middle" textLength="38.0" lengthAdjust="spacingAndGlyphs" fill="#2a2a2a">gel videz les tuyauteries</text>
<text transform="translate(395.90 372.50) rotate(-90)" font-size="4.4" text-anchor="middle" font-weight="bold" textLength="17.0" lengthAdjust="spacingAndGlyphs" fill="#111">Caution!</text>
<text transform="translate(400.90 372.50) rotate(-90)" font-size="4.3" text-anchor="middle" textLength="33.0" lengthAdjust="spacingAndGlyphs" fill="#2a2a2a">In the event of frost</text>
<text transform="translate(405.90 372.50) rotate(-90)" font-size="4.3" text-anchor="middle" textLength="28.0" lengthAdjust="spacingAndGlyphs" fill="#2a2a2a">drain the pipes!</text>
<line x1="414.90" y1="355.00" x2="414.90" y2="361.00" stroke="#111" stroke-width="1.2" />
<polygon points="414.90,353.2 413.00,356.8 416.80,356.8" fill="#111"/>
<text x="414.90" y="364.30" font-size="4.7" text-anchor="middle" font-weight="bold" textLength="8.6" lengthAdjust="spacingAndGlyphs" fill="#111">min.</text>
<text x="414.90" y="383.60" font-size="4.7" text-anchor="middle" font-weight="bold" textLength="10.4" lengthAdjust="spacingAndGlyphs" fill="#111">max.</text>
<line x1="414.90" y1="385.00" x2="414.90" y2="390.20" stroke="#111" stroke-width="1.2" />
<polygon points="414.90,392 413.00,388.4 416.80,388.4" fill="#111"/>
<text x="450.90" y="357.60" font-size="5.0" text-anchor="middle" textLength="38.6" lengthAdjust="spacingAndGlyphs" fill="#2a2a2a">Fliesenvorderkante</text>
<text x="450.90" y="364.50" font-size="5.0" text-anchor="middle" textLength="48.6" lengthAdjust="spacingAndGlyphs" fill="#2a2a2a">Face avant du carrelage</text>
<text x="450.90" y="371.30" font-size="5.0" text-anchor="middle" textLength="42.5" lengthAdjust="spacingAndGlyphs" fill="#2a2a2a">Finished wall surface</text>
<text x="450.90" y="378.30" font-size="5.0" text-anchor="middle" textLength="57.7" lengthAdjust="spacingAndGlyphs" fill="#2a2a2a">Parte esterna della piastrella</text>
<text x="450.90" y="385.00" font-size="5.0" text-anchor="middle" textLength="36.2" lengthAdjust="spacingAndGlyphs" fill="#2a2a2a">Margen delantero</text>
<text x="450.90" y="390.90" font-size="5.0" text-anchor="middle" textLength="30.5" lengthAdjust="spacingAndGlyphs" fill="#2a2a2a">de las baldosas</text>
<line x1="485.20" y1="355.00" x2="485.20" y2="361.00" stroke="#111" stroke-width="1.2" />
<polygon points="485.20,353.2 483.30,356.8 487.10,356.8" fill="#111"/>
<text x="485.20" y="364.30" font-size="4.7" text-anchor="middle" font-weight="bold" textLength="8.6" lengthAdjust="spacingAndGlyphs" fill="#111">min.</text>
<text x="485.20" y="383.60" font-size="4.7" text-anchor="middle" font-weight="bold" textLength="10.4" lengthAdjust="spacingAndGlyphs" fill="#111">max.</text>
<line x1="485.20" y1="385.00" x2="485.20" y2="390.20" stroke="#111" stroke-width="1.2" />
<polygon points="485.20,392 483.30,388.4 487.10,388.4" fill="#111"/>
<text transform="translate(494.90 372.00) rotate(90)" font-size="4.3" text-anchor="middle" textLength="37.0" lengthAdjust="spacingAndGlyphs" fill="#2a2a2a">das, vaciar las tuberías</text>
<text transform="translate(499.40 372.00) rotate(90)" font-size="4.3" text-anchor="middle" textLength="38.0" lengthAdjust="spacingAndGlyphs" fill="#2a2a2a">En caso de riesgo de hela-</text>
<text transform="translate(504.40 372.00) rotate(90)" font-size="4.4" text-anchor="middle" font-weight="bold" textLength="18.0" lengthAdjust="spacingAndGlyphs" fill="#111">¡Atención!</text>
<text transform="translate(511.60 372.00) rotate(90)" font-size="4.3" text-anchor="middle" textLength="34.0" lengthAdjust="spacingAndGlyphs" fill="#2a2a2a">gelo, svuotare i tubi!</text>
<text transform="translate(516.30 372.00) rotate(90)" font-size="4.3" text-anchor="middle" textLength="35.0" lengthAdjust="spacingAndGlyphs" fill="#2a2a2a">In caso di pericolo di</text>
<line x1="553.50" y1="266.00" x2="617.50" y2="266.00" stroke="#1e1e1e" stroke-width="1.12" />
<line x1="521.50" y1="350.40" x2="594.00" y2="350.40" stroke="#1e1e1e" stroke-width="1.12" />
<line x1="521.50" y1="395.60" x2="617.50" y2="395.60" stroke="#1e1e1e" stroke-width="1.12" />
<polygon points="587.60,266.00 581.90,276.00 593.30,276.00" fill="#111"/>
<polygon points="587.60,350.40 581.90,340.40 593.30,340.40" fill="#111"/>
<line x1="587.60" y1="276.00" x2="587.60" y2="294.00" stroke="#1e1e1e" stroke-width="1.12" />
<line x1="587.60" y1="320.00" x2="587.60" y2="340.50" stroke="#1e1e1e" stroke-width="1.12" />
<text transform="translate(587.60 306.80) rotate(-90)" x="-9.50" y="5.23" font-size="14.6" letter-spacing="2.763" fill="#1a1a1a">87</text>
<polygon points="609.80,266.00 604.10,276.00 615.50,276.00" fill="#111"/>
<polygon points="609.80,395.60 604.10,385.60 615.50,385.60" fill="#111"/>
<line x1="609.80" y1="276.00" x2="609.80" y2="312.50" stroke="#1e1e1e" stroke-width="1.12" />
<line x1="609.80" y1="352.00" x2="609.80" y2="385.70" stroke="#1e1e1e" stroke-width="1.12" />
<text transform="translate(609.80 332.80) rotate(-90)" x="-13.50" y="5.23" font-size="14.6" letter-spacing="1.321" fill="#1a1a1a">122</text>
<polygon points="529.30,350.40 523.60,360.40 535.00,360.40" fill="#111"/>
<polygon points="529.30,395.60 523.60,385.60 535.00,385.60" fill="#111"/>
<text transform="translate(529.70 373.80) rotate(-90)" x="-9.40" y="5.23" font-size="14.6" letter-spacing="2.563" fill="#1a1a1a">35</text>
<line x1="44.00" y1="395.60" x2="66.00" y2="395.60" stroke="#1e1e1e" stroke-width="1.12" />
<line x1="41.00" y1="406.20" x2="66.00" y2="406.20" stroke="#1e1e1e" stroke-width="1.12" />
<line x1="50.20" y1="375.00" x2="50.20" y2="386.00" stroke="#1e1e1e" stroke-width="1.12" />
<polygon points="50.20,395.60 44.50,385.60 55.90,385.60" fill="#111"/>
<polygon points="50.20,406.20 44.50,416.20 55.90,416.20" fill="#111"/>
<line x1="50.20" y1="416.00" x2="50.20" y2="432.00" stroke="#1e1e1e" stroke-width="1.12" />
<text transform="translate(50.50 448.40) rotate(-90)" x="-8.30" y="5.23" font-size="14.6" letter-spacing="0.363" fill="#1a1a1a">10</text>
<line x1="65.50" y1="407.00" x2="65.50" y2="466.00" stroke="#1e1e1e" stroke-width="1.12" />
<line x1="520.30" y1="407.00" x2="520.30" y2="466.00" stroke="#1e1e1e" stroke-width="1.12" />
<line x1="239.00" y1="417.00" x2="245.00" y2="417.00" stroke="#1e1e1e" stroke-width="1.12" />
<polygon points="254.60,417.00 244.60,411.30 244.60,422.70" fill="#111"/>
<text x="266.00" y="422.20" font-size="14.6" letter-spacing="2.763" fill="#1a1a1a">35</text>
<polygon points="293.80,417.00 303.80,411.30 303.80,422.70" fill="#111"/>
<line x1="303.50" y1="417.00" x2="310.00" y2="417.00" stroke="#1e1e1e" stroke-width="1.12" />
<polygon points="65.50,435.80 75.50,430.10 75.50,441.50" fill="#111"/>
<line x1="75.00" y1="435.80" x2="143.00" y2="435.80" stroke="#1e1e1e" stroke-width="1.12" />
<text x="148.00" y="441.10" font-size="14.6" letter-spacing="1.321" fill="#1a1a1a">178</text>
<line x1="178.00" y1="435.80" x2="245.00" y2="435.80" stroke="#1e1e1e" stroke-width="1.12" />
<polygon points="254.60,435.80 244.60,430.10 244.60,441.50" fill="#111"/>
<polygon points="254.60,435.80 264.60,430.10 264.60,441.50" fill="#111"/>
<line x1="264.00" y1="435.80" x2="365.00" y2="435.80" stroke="#1e1e1e" stroke-width="1.12" />
<text x="370.00" y="441.20" font-size="14.6" letter-spacing="2.821" fill="#1a1a1a">250</text>
<line x1="409.00" y1="435.80" x2="511.00" y2="435.80" stroke="#1e1e1e" stroke-width="1.12" />
<polygon points="520.30,435.80 510.30,430.10 510.30,441.50" fill="#111"/>
<polygon points="65.50,456.60 75.50,450.90 75.50,462.30" fill="#111"/>
<line x1="75.00" y1="456.60" x2="275.00" y2="456.60" stroke="#1e1e1e" stroke-width="1.12" />
<text x="281.00" y="461.60" font-size="14.6" letter-spacing="2.821" fill="#1a1a1a">428</text>
<line x1="318.00" y1="456.60" x2="511.00" y2="456.60" stroke="#1e1e1e" stroke-width="1.12" />
<polygon points="520.30,456.60 510.30,450.90 510.30,462.30" fill="#111"/>
<line x1="632.00" y1="94.00" x2="673.50" y2="94.00" stroke="#1e1e1e" stroke-width="1.12" />
<line x1="632.00" y1="181.00" x2="668.00" y2="181.00" stroke="#1e1e1e" stroke-width="1.12" />
<polygon points="636.60,94.00 630.90,104.00 642.30,104.00" fill="#111"/>
<polygon points="636.60,181.00 630.90,171.00 642.30,171.00" fill="#111"/>
<line x1="636.60" y1="104.00" x2="636.60" y2="124.00" stroke="#1e1e1e" stroke-width="1.12" />
<line x1="636.60" y1="152.00" x2="636.60" y2="171.00" stroke="#1e1e1e" stroke-width="1.12" />
<text transform="translate(637.00 138.00) rotate(-90)" x="-9.75" y="5.23" font-size="14.6" letter-spacing="3.263" fill="#1a1a1a">82</text>
<line x1="794.00" y1="105.90" x2="820.00" y2="105.90" stroke="#1e1e1e" stroke-width="1.12" />
<line x1="794.00" y1="170.00" x2="820.00" y2="170.00" stroke="#1e1e1e" stroke-width="1.12" />
<polygon points="813.40,105.90 807.70,115.90 819.10,115.90" fill="#111"/>
<polygon points="813.40,170.00 807.70,160.00 819.10,160.00" fill="#111"/>
<line x1="813.40" y1="115.50" x2="813.40" y2="126.60" stroke="#1e1e1e" stroke-width="1.12" />
<line x1="813.40" y1="149.50" x2="813.40" y2="160.00" stroke="#1e1e1e" stroke-width="1.12" />
<text transform="translate(813.40 137.80) rotate(-90)" x="-9.50" y="5.23" font-size="14.6" letter-spacing="2.763" fill="#1a1a1a">60</text>
<line x1="653.20" y1="176.00" x2="653.20" y2="209.00" stroke="#1e1e1e" stroke-width="1.12" />
<line x1="794.00" y1="170.00" x2="794.00" y2="209.00" stroke="#1e1e1e" stroke-width="1.12" />
<polygon points="653.20,200.00 663.20,194.30 663.20,205.70" fill="#111"/>
<polygon points="794.00,200.00 784.00,194.30 784.00,205.70" fill="#111"/>
<line x1="662.50" y1="200.00" x2="700.00" y2="200.00" stroke="#1e1e1e" stroke-width="1.12" />
<line x1="741.00" y1="200.00" x2="784.50" y2="200.00" stroke="#1e1e1e" stroke-width="1.12" />
<text x="709.50" y="205.20" font-size="14.6" letter-spacing="1.071" fill="#1a1a1a">132</text>
<rect x="730.00" y="105.70" width="63.90" height="63.60" fill="#fff" stroke="#141414" stroke-width="1.9" rx="0" />
<line x1="783.20" y1="105.70" x2="783.20" y2="169.30" stroke="#141414" stroke-width="1.8" />
<line x1="731.60" y1="106.00" x2="731.60" y2="169.00" stroke="#666" stroke-width="0.9" />
<line x1="704.00" y1="105.90" x2="730.00" y2="105.90" stroke="#141414" stroke-width="2.2" />
<line x1="704.00" y1="108.10" x2="730.00" y2="108.10" stroke="#777" stroke-width="0.9" />
<line x1="704.00" y1="137.70" x2="730.00" y2="137.70" stroke="#141414" stroke-width="2.0" />
<line x1="704.00" y1="168.40" x2="730.00" y2="168.40" stroke="#141414" stroke-width="2.2" />
<path d="M704,96.8 L708.7,96.8 L709.2,101.2 L713,102 L714.8,105 L704,105 Z" fill="#3a3a3a" stroke="#222" stroke-width="0.8" />
<path d="M704,169.2 L714.6,169.2 L714.6,175.4 Q714.6,177.6 712,177.6 L704,177.6 Z" fill="#333" stroke="#222" stroke-width="0.8" />
<line x1="706.00" y1="173.20" x2="713.00" y2="173.20" stroke="#888" stroke-width="0.9" />
<path d="M672.5,98.3 L655.4,98.3 Q652.4,98.3 652.4,101.3 L652.4,176.2 L669,176.2" fill="none" stroke="#141414" stroke-width="2.0" />
<path d="M655,176 L655,101.3 L661,101.3" fill="none" stroke="#777" stroke-width="1.0" />
<line x1="653.00" y1="174.20" x2="668.00" y2="174.20" stroke="#777" stroke-width="0.9" />
<line x1="660.80" y1="99.00" x2="660.80" y2="176.00" stroke="#141414" stroke-width="1.9" />
<line x1="669.00" y1="98.00" x2="669.00" y2="118.00" stroke="#141414" stroke-width="1.9" />
<line x1="669.00" y1="159.00" x2="669.00" y2="177.00" stroke="#141414" stroke-width="1.9" />
<line x1="698.40" y1="93.40" x2="698.40" y2="185.00" stroke="#141414" stroke-width="1.8" />
<line x1="703.80" y1="93.40" x2="703.80" y2="185.00" stroke="#141414" stroke-width="1.9" />
<line x1="661.00" y1="97.90" x2="699.00" y2="97.90" stroke="#141414" stroke-width="1.6" />
<path d="M672.5,97.8 L672.5,96 L675,93.2 L704,93.2 L704,94.6 L684,97.8 Z" fill="#222" stroke="#111" stroke-width="0.8" />
<line x1="669.00" y1="105.60" x2="698.00" y2="105.60" stroke="#141414" stroke-width="2.0" />
<line x1="669.00" y1="107.40" x2="698.00" y2="107.40" stroke="#777" stroke-width="0.9" />
<line x1="676.40" y1="105.60" x2="676.40" y2="116.20" stroke="#141414" stroke-width="1.8" />
<line x1="683.20" y1="105.60" x2="683.20" y2="116.20" stroke="#141414" stroke-width="1.8" />
<rect x="699.40" y="96.60" width="3.40" height="3.60" fill="#fff" rx="0"/>
<rect x="699.40" y="111.00" width="3.40" height="3.40" fill="#fff" rx="0"/>
<line x1="698.40" y1="103.50" x2="703.80" y2="103.50" stroke="#141414" stroke-width="1.2" />
<line x1="669.00" y1="167.80" x2="698.00" y2="167.80" stroke="#141414" stroke-width="2.0" />
<line x1="669.00" y1="169.90" x2="698.00" y2="169.90" stroke="#777" stroke-width="0.9" />
<line x1="698.40" y1="164.00" x2="703.80" y2="164.00" stroke="#141414" stroke-width="1.2" />
<line x1="698.40" y1="172.00" x2="703.80" y2="172.00" stroke="#141414" stroke-width="1.2" />
<path d="M698.4,116.6 L679.8,117.2 A21.8,21.8 0 0 0 670.1,158.5 L698.4,158.5" fill="#fff" stroke="#141414" stroke-width="2.4" />
<circle cx="679.80" cy="139.00" r="15.30" fill="none" stroke="#141414" stroke-width="2.9"/>
<circle cx="664.60" cy="103.50" r="2.60" fill="#fff" stroke="#141414" stroke-width="1.8"/>
<circle cx="697.60" cy="123.80" r="2.60" fill="#fff" stroke="#141414" stroke-width="1.8"/>
<circle cx="697.60" cy="151.70" r="2.60" fill="#fff" stroke="#141414" stroke-width="1.8"/>
<circle cx="664.60" cy="171.90" r="2.60" fill="#fff" stroke="#141414" stroke-width="1.8"/>
<path d="M668.5,176.8 L705.8,176.8 L705.8,182.5 Q705.8,186.5 701.8,186.5 L672.5,186.5 Q668.5,186.5 668.5,182.5 Z" fill="#1c1c1c" stroke="#111" stroke-width="0.8" />
<path d="M671.5,178 L684,178 L699.5,181 L671.5,181 Z" fill="#e9e9e9" stroke="none" stroke-width="0" />
<line x1="672.00" y1="183.40" x2="702.00" y2="183.40" stroke="#555" stroke-width="0.8" />
<rect x="52.60" y="484.10" width="485.20" height="17.40" fill="none" stroke="#141414" stroke-width="2.3" rx="0" stroke-dasharray="7.4 2.8"/>
<line x1="52.30" y1="501.00" x2="52.30" y2="591.00" stroke="#1e1e1e" stroke-width="1.12" />
<line x1="537.60" y1="501.00" x2="537.60" y2="591.00" stroke="#1e1e1e" stroke-width="1.12" />
<line x1="88.20" y1="503.00" x2="88.20" y2="564.50" stroke="#141414" stroke-width="2.2" stroke-dasharray="7.4 3.1"/>
<line x1="125.30" y1="503.00" x2="125.30" y2="564.50" stroke="#141414" stroke-width="2.2" stroke-dasharray="7.4 3.1"/>
<line x1="88.00" y1="501.80" x2="125.50" y2="501.80" stroke="#141414" stroke-width="2.3" stroke-dasharray="7.4 2.2"/>
<path d="M122.55,565.61 A15.9,15.9 0 1 0 91.05,565.61" fill="none" stroke="#141414" stroke-width="1.9" stroke-dasharray="4.2 1.5"/>
<path d="M118.52,565.47 A11.9,11.9 0 1 0 95.08,565.47" fill="none" stroke="#141414" stroke-width="1.9" stroke-dasharray="4.2 1.5"/>
<path d="M116.44,547.97 A18.2,18.2 0 0 0 97.16,547.97" fill="none" stroke="#141414" stroke-width="1.9" stroke-dasharray="6 1.3"/>
<ellipse cx="94.30" cy="570.30" rx="2.4" ry="3.5" transform="rotate(-18 94.30 570.30)" fill="#161616"/>
<path d="M91.60,563.90 L93.40,568.40" fill="none" stroke="#141414" stroke-width="1.8" stroke-dasharray="2.4 1"/>
<path d="M95.20,563.90 L95.00,568.40" fill="none" stroke="#141414" stroke-width="1.6" stroke-dasharray="2.4 1"/>
<ellipse cx="119.30" cy="570.30" rx="2.4" ry="3.5" transform="rotate(18 119.30 570.30)" fill="#161616"/>
<path d="M122.00,563.90 L120.20,568.40" fill="none" stroke="#141414" stroke-width="1.8" stroke-dasharray="2.4 1"/>
<path d="M118.40,563.90 L118.60,568.40" fill="none" stroke="#141414" stroke-width="1.6" stroke-dasharray="2.4 1"/>
<path d="M310,501.5 L310,545.2 L357,545.2 L357,501.5" fill="none" stroke="#141414" stroke-width="2.2" stroke-dasharray="5.8 2.4"/>
<line x1="313.00" y1="510.80" x2="353.50" y2="510.80" stroke="#141414" stroke-width="2.2" stroke-dasharray="9 2.2"/>
<line x1="310.00" y1="502.40" x2="357.00" y2="502.40" stroke="#141414" stroke-width="2.6" stroke-dasharray="9 2"/>
<rect x="329.60" y="524.80" width="8.00" height="19.60" fill="none" stroke="#141414" stroke-width="2.1" rx="1" stroke-dasharray="5 1.8"/>
<path d="M461,501.5 L461,545.2 L508,545.2 L508,501.5" fill="none" stroke="#141414" stroke-width="2.2" stroke-dasharray="5.8 2.4"/>
<line x1="464.00" y1="510.80" x2="504.50" y2="510.80" stroke="#141414" stroke-width="2.2" stroke-dasharray="9 2.2"/>
<line x1="461.00" y1="502.40" x2="508.00" y2="502.40" stroke="#141414" stroke-width="2.6" stroke-dasharray="9 2"/>
<rect x="481.20" y="524.80" width="7.20" height="19.60" fill="none" stroke="#141414" stroke-width="2.1" rx="1" stroke-dasharray="5 1.8"/>
<polygon points="52.30,584.60 62.30,578.90 62.30,590.30" fill="#111"/>
<line x1="61.50" y1="584.60" x2="152.00" y2="584.60" stroke="#1e1e1e" stroke-width="1.12" />
<text x="158.00" y="589.80" font-size="14.6" letter-spacing="2.571" fill="#1a1a1a">228</text>
<line x1="195.00" y1="584.60" x2="284.50" y2="584.60" stroke="#1e1e1e" stroke-width="1.12" />
<polygon points="293.80,584.60 283.80,578.90 283.80,590.30" fill="#111"/>
<polygon points="293.80,584.60 303.80,578.90 303.80,590.30" fill="#111"/>
<line x1="303.00" y1="584.60" x2="394.00" y2="584.60" stroke="#1e1e1e" stroke-width="1.12" />
<text x="401.00" y="589.80" font-size="14.6" letter-spacing="2.321" fill="#1a1a1a">228</text>
<line x1="437.00" y1="584.60" x2="528.00" y2="584.60" stroke="#1e1e1e" stroke-width="1.12" />
<polygon points="537.60,584.60 527.60,578.90 527.60,590.30" fill="#111"/>
<line x1="293.80" y1="87.00" x2="293.80" y2="101.70" stroke="#2e2e2e" stroke-width="1.2" />
<line x1="293.80" y1="134.60" x2="293.80" y2="141.10" stroke="#2e2e2e" stroke-width="1.2" />
<line x1="293.80" y1="174.40" x2="293.80" y2="184.60" stroke="#2e2e2e" stroke-width="1.2" />
<line x1="293.80" y1="187.70" x2="293.80" y2="201.00" stroke="#2e2e2e" stroke-width="1.2" />
<line x1="293.80" y1="205.00" x2="293.80" y2="217.50" stroke="#2e2e2e" stroke-width="1.2" />
<line x1="293.80" y1="220.70" x2="293.80" y2="233.20" stroke="#2e2e2e" stroke-width="1.2" />
<line x1="293.80" y1="237.10" x2="293.80" y2="241.90" stroke="#2e2e2e" stroke-width="1.2" />
<line x1="293.80" y1="262.00" x2="293.80" y2="264.70" stroke="#2e2e2e" stroke-width="1.2" />
<line x1="293.80" y1="269.20" x2="293.80" y2="282.70" stroke="#2e2e2e" stroke-width="1.2" />
<line x1="293.80" y1="287.20" x2="293.80" y2="300.60" stroke="#2e2e2e" stroke-width="1.2" />
<line x1="293.80" y1="304.20" x2="293.80" y2="317.70" stroke="#2e2e2e" stroke-width="1.2" />
<line x1="293.80" y1="321.30" x2="293.80" y2="324.00" stroke="#2e2e2e" stroke-width="1.2" />
<line x1="293.80" y1="328.50" x2="293.80" y2="341.00" stroke="#2e2e2e" stroke-width="1.2" />
<line x1="293.80" y1="344.50" x2="293.80" y2="349.00" stroke="#2e2e2e" stroke-width="1.2" />
<line x1="293.80" y1="353.00" x2="293.80" y2="366.00" stroke="#2e2e2e" stroke-width="1.2" />
<line x1="293.80" y1="370.00" x2="293.80" y2="383.00" stroke="#2e2e2e" stroke-width="1.2" />
<line x1="293.80" y1="387.00" x2="293.80" y2="394.00" stroke="#2e2e2e" stroke-width="1.2" />
<line x1="293.80" y1="399.40" x2="293.80" y2="403.80" stroke="#2e2e2e" stroke-width="1.2" />
<line x1="293.80" y1="409.00" x2="293.80" y2="412.00" stroke="#2e2e2e" stroke-width="1.2" />
<line x1="293.80" y1="424.50" x2="293.80" y2="435.30" stroke="#2e2e2e" stroke-width="1.2" />
<line x1="293.80" y1="439.80" x2="293.80" y2="449.00" stroke="#2e2e2e" stroke-width="1.2" />
<line x1="293.80" y1="467.40" x2="293.80" y2="471.30" stroke="#2e2e2e" stroke-width="1.2" />
<line x1="293.80" y1="477.90" x2="293.80" y2="491.00" stroke="#2e2e2e" stroke-width="1.2" />
<line x1="293.80" y1="496.00" x2="293.80" y2="509.00" stroke="#2e2e2e" stroke-width="1.2" />
<line x1="293.80" y1="514.40" x2="293.80" y2="527.50" stroke="#2e2e2e" stroke-width="1.2" />
<line x1="293.80" y1="532.70" x2="293.80" y2="544.40" stroke="#2e2e2e" stroke-width="1.2" />
<line x1="293.80" y1="551.00" x2="293.80" y2="562.70" stroke="#2e2e2e" stroke-width="1.2" />
<line x1="293.80" y1="569.00" x2="293.80" y2="581.00" stroke="#2e2e2e" stroke-width="1.2" />
<line x1="293.80" y1="585.00" x2="293.80" y2="590.50" stroke="#2e2e2e" stroke-width="1.2" />
<line x1="293.80" y1="109.00" x2="293.80" y2="125.40" stroke="#9a9a9a" stroke-width="1.0" />
<line x1="293.80" y1="151.00" x2="293.80" y2="167.00" stroke="#9a9a9a" stroke-width="1.0" />
<line x1="293.80" y1="458.00" x2="293.80" y2="462.00" stroke="#888" stroke-width="1.0" />
<defs><filter id="halo" x="-20%" y="-20%" width="140%" height="140%"><feMorphology in="SourceAlpha" operator="dilate" radius="1.9" result="d"/><feGaussianBlur in="d" stdDeviation="0.5" result="b"/><feComponentTransfer in="b" result="t"><feFuncA type="linear" slope="4" intercept="-1"/></feComponentTransfer><feFlood flood-color="#fff"/><feComposite in2="t" operator="in" result="w"/><feMerge><feMergeNode in="w"/><feMergeNode in="SourceGraphic"/></feMerge></filter></defs>
<g font-weight="bold" font-size="61" stroke-linejoin="miter">
<text x="0" y="0" transform="translate(706.6 595.2) scale(0.98 1)" fill="#5de620" stroke="#5de620" stroke-width="2">M</text>
<g filter="url(#halo)"><text x="0" y="0" transform="translate(746.1 595.2) scale(0.917 1)" fill="#2d3748" stroke="#2d3748" stroke-width="2">S</text></g>
</g>
</g>
</svg>
</body></html>
